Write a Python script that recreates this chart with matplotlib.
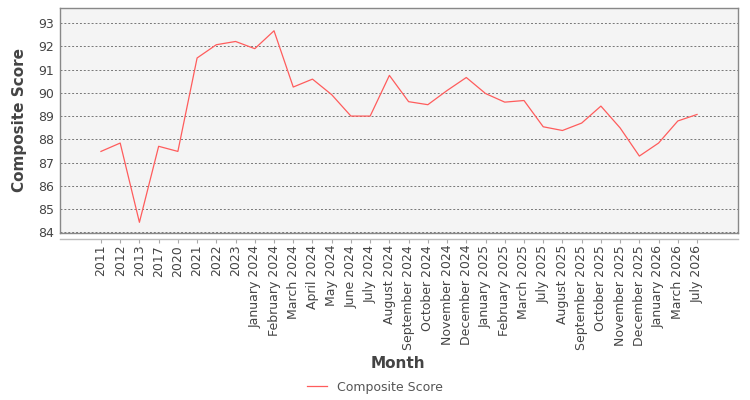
import matplotlib
matplotlib.use('Agg')
import matplotlib.pyplot as plt
from matplotlib.lines import Line2D

# Composite score by month
months = ['2011', '2012', '2013', '2017', '2020', '2021', '2022', '2023',
          'January 2024', 'February 2024', 'March 2024', 'April 2024',
          'May 2024', 'June 2024', 'July 2024', 'August 2024',
          'September 2024', 'October 2024', 'November 2024', 'December 2024',
          'January 2025', 'February 2025', 'March 2025', 'July 2025',
          'August 2025', 'September 2025', 'October 2025', 'November 2025',
          'December 2025', 'January 2026', 'March 2026', 'July 2026']
scores = [87.48, 87.84, 84.43, 87.70, 87.48, 91.50, 92.07, 92.21,
          91.90, 92.67, 90.25, 90.59, 89.92, 89.00, 89.00, 90.75,
          89.62, 89.49, 90.10, 90.66, 89.97, 89.60, 89.67, 88.54,
          88.38, 88.70, 89.43, 88.49, 87.28, 87.84, 88.79, 89.07]

plt.rcParams['font.family'] = ['DejaVu Sans']

fig = plt.figure(figsize=(7.5, 4), dpi=100, facecolor='white')
ax = fig.add_axes([0.08, 0.4175, 0.904, 0.5625])
ax.set_facecolor('#f4f4f4')

# x axis line sits a few pixels under the plot border
# (set before the ticks, since moving the spine resets the axis)
ax.spines['bottom'].set_position(('outward', 4))

x = list(range(len(months)))
line, = ax.plot(x, scores, color='#ff5c5c', linewidth=0.9, label='Composite Score')

ax.set_xlim(-2.13, len(months) - 1 + 2.13)
ax.set_ylim(83.97, 93.65)
ax.set_yticks(range(84, 94))
ax.yaxis.grid(True, linestyle=(0, (2, 2)), color='#777777', linewidth=0.7)
ax.set_axisbelow(True)

ax.set_xticks(x)
ax.set_xticklabels(months, rotation=90, fontsize=9, color='#444444')
ax.tick_params(axis='x', length=3, color='#aaaaaa', pad=1.5)
ax.tick_params(axis='y', length=0, labelsize=9, labelcolor='#444444', pad=4)

for s in ax.spines.values():
    s.set_color('#888888')
    s.set_linewidth(1.0)
ax.spines['bottom'].set_color('#bbbbbb')
ax.add_line(Line2D([0, 1], [0, 0], transform=ax.transAxes, color='#888888',
                   linewidth=1.0, clip_on=False, zorder=3))

ax.set_ylabel('Composite Score', fontsize=11, fontweight='bold', color='#444444', labelpad=8)
fig.text(0.531, 0.092, 'Month', fontsize=11, fontweight='bold', color='#444444',
         ha='center', va='center')

fig.legend(handles=[line], loc='center', bbox_to_anchor=(0.5, 0.032), frameon=False,
           fontsize=9, handlelength=1.6, labelcolor='#555555')

fig.savefig('out.png', dpi=100, facecolor='white')
